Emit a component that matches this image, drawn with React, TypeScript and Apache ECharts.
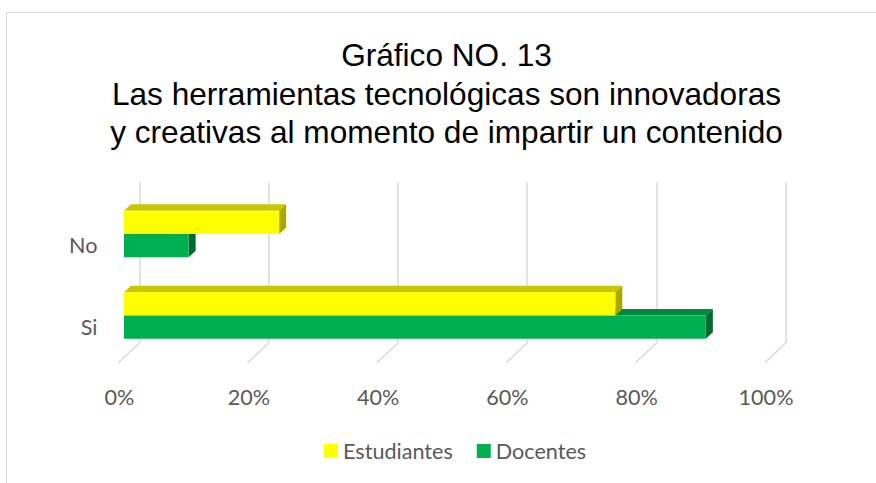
import React, { useEffect, useRef } from "react";
import * as echarts from "echarts";

const titleLines = [
  "Gráfico NO. 13",
  "Las herramientas tecnológicas son innovadoras",
  "y creativas al momento de impartir un contenido",
];
const categories = ["No", "Si"];
const estudiantes = [24, 76];
const docentes = [10, 90];
const xTicks = [0, 20, 40, 60, 80, 100];
const seriesNames = ["Estudiantes", "Docentes"];

const DX = 7;
const DY = 6.5;
const BAR_RATIO = 0.286;
const LABEL_FONT = "Lato";
const GRAY = "#595959";

function makeBarRender(slot: number, front: string, top: string, side: string) {
  return (params: any, api: any) => {
    const v = api.value(0);
    const c = api.value(1);
    const start = api.coord([0, c]);
    const end = api.coord([v, c]);
    const band = api.size([0, 1])[1];
    const h = band * BAR_RATIO;
    const y0 = start[1] - h + slot * h;
    const x0 = start[0];
    const x1 = end[0];
    return {
      type: "group",
      children: [
        {
          type: "polygon",
          shape: { points: [[x0, y0], [x1, y0], [x1 + DX, y0 - DY], [x0 + DX, y0 - DY]] },
          style: { fill: top },
        },
        {
          type: "polygon",
          shape: { points: [[x1, y0], [x1, y0 + h], [x1 + DX, y0 + h - DY], [x1 + DX, y0 - DY]] },
          style: { fill: side },
        },
        {
          type: "rect",
          shape: { x: x0, y: y0, width: x1 - x0, height: h },
          style: { fill: front },
        },
      ],
    };
  };
}

export default function App() {
  const ref = useRef<HTMLDivElement>(null);
  useEffect(() => {
    if (!ref.current) return;
    const chart = echarts.init(ref.current, undefined, { renderer: "svg" });
    const option: any = {
      animation: false,
      backgroundColor: "#ffffff",
      title: {
        text: titleLines.join("\n"),
        left: 446.5,
        top: 35.6,
        padding: 0,
        textAlign: "center",
        textStyle: {
          fontFamily: "Liberation Sans",
          fontSize: 31.6,
          fontWeight: "normal",
          color: "#000000",
          lineHeight: 38.7,
        },
      },
      graphic: [
        {
          type: "polyline",
          shape: { points: [[6.5, 483], [6.5, 12.5], [876, 12.5]] },
          style: { stroke: "#d9d9d9", lineWidth: 1, fill: null },
          z: -1,
        },
      ],
      legend: {
        data: seriesNames,
        left: 319,
        top: 435,
        icon: "rect",
        itemWidth: 14,
        itemHeight: 14,
        itemGap: 24,
        textStyle: { fontFamily: LABEL_FONT, fontSize: 21.6, color: GRAY, padding: [8, 0, 0, 0] },
      },
      grid: [
        { left: 124, top: 193.25, width: 646.5, height: 163 },
        { left: 139.3, top: 182.7, width: 646.5, height: 160.3 },
        { left: 119.5, top: 204.25, width: 646.5, height: 163 },
      ],
      xAxis: [
        { gridIndex: 0, type: "value", min: 0, max: 100, show: false },
        {
          gridIndex: 1,
          type: "value",
          min: 0,
          max: 100,
          interval: 20,
          axisLine: { show: false },
          axisTick: { show: false },
          axisLabel: { show: false },
          splitLine: { show: true, lineStyle: { color: "#d9d9d9", width: 1.5 } },
        },
        {
          gridIndex: 2,
          type: "value",
          min: 0,
          max: 100,
          interval: 20,
          axisLine: { show: false },
          axisTick: { show: false },
          splitLine: { show: false },
          axisLabel: {
            margin: 19,
            fontFamily: LABEL_FONT,
            fontSize: 21.6,
            color: GRAY,
            formatter: (v: number) => (xTicks.indexOf(v) >= 0 ? v + "%" : ""),
          },
        },
      ],
      yAxis: [
        { gridIndex: 0, type: "category", data: categories, inverse: true, show: false },
        { gridIndex: 1, type: "value", min: 0, max: 1, show: false },
        {
          gridIndex: 2,
          type: "category",
          data: categories,
          inverse: true,
          axisLine: { show: false },
          axisTick: { show: false },
          splitLine: { show: false },
          axisLabel: { margin: 22, fontFamily: LABEL_FONT, fontSize: 21.6, color: GRAY },
        },
      ],
      series: [
        {
          type: "custom",
          name: "floor",
          xAxisIndex: 1,
          yAxisIndex: 1,
          silent: true,
          z: 1,
          data: xTicks.map((t) => [t, 0]),
          renderItem: (params: any, api: any) => {
            const p = api.coord([api.value(0), 0]);
            return {
              type: "line",
              shape: { x1: p[0], y1: p[1], x2: p[0] - 21, y2: p[1] + 19.7 },
              style: { stroke: "#d9d9d9", lineWidth: 1.5 },
            };
          },
        },
        {
          type: "custom",
          name: seriesNames[1],
          xAxisIndex: 0,
          yAxisIndex: 0,
          z: 3,
          itemStyle: { color: "#00B050" },
          data: docentes.map((v, i) => [v, i]),
          encode: { x: 0, y: 1 },
          renderItem: makeBarRender(1, "#00B050", "#008A3E", "#006B30"),
        },
        {
          type: "custom",
          name: seriesNames[0],
          xAxisIndex: 0,
          yAxisIndex: 0,
          z: 4,
          itemStyle: { color: "#FFFF00" },
          data: estudiantes.map((v, i) => [v, i]),
          encode: { x: 0, y: 1 },
          renderItem: makeBarRender(0, "#FFFF00", "#C8C800", "#A8A800"),
        },
      ],
    };
    chart.setOption(option);
    return () => chart.dispose();
  }, []);
  return (
    <div
      ref={ref}
      style={{ position: "absolute", left: 0, top: 0, width: 876, height: 483 }}
    />
  );
}
